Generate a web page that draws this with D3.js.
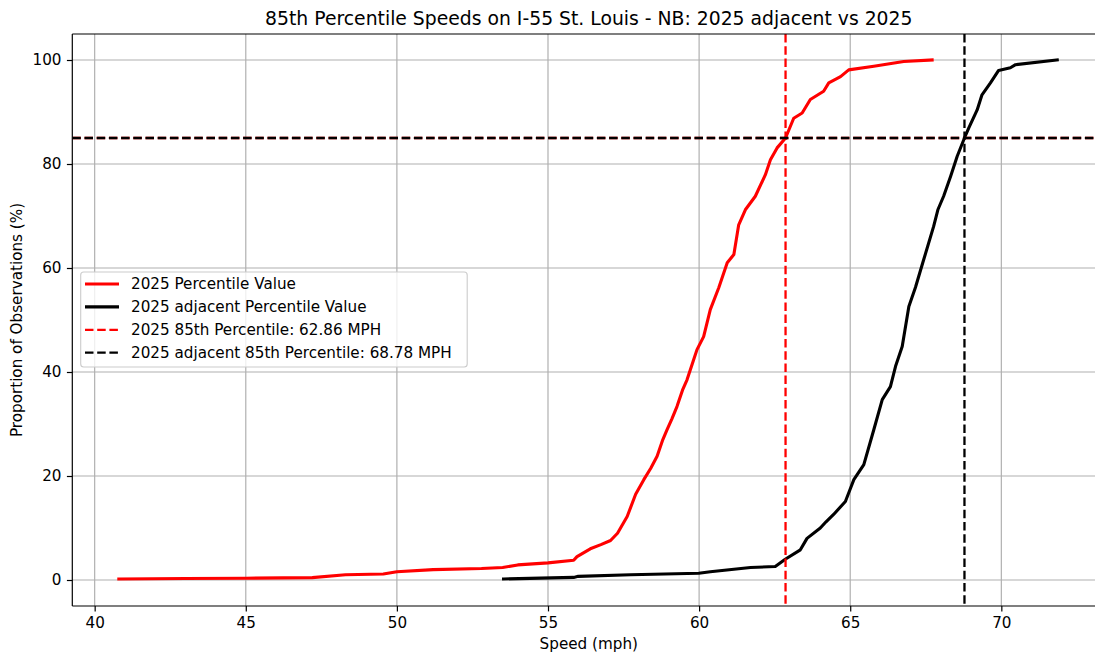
<!DOCTYPE html>
<html>
<head>
<meta charset="utf-8">
<script src="https://cdn.jsdelivr.net/npm/d3@7"></script>
<style>
  html, body { margin: 0; padding: 0; background: #fff; }
  svg { display: block; font-family: "DejaVu Sans", sans-serif; }
</style>
</head>
<body>
<svg id="chart" width="1095" height="656"></svg>
<script>
// Cumulative speed distributions (speed in mph, cumulative share in %)
const speed2025 = [40.8, 43.0, 45.0, 47.2, 48.3, 49.55, 50.0, 51.2, 52.8, 53.5, 54.0, 55.0, 55.85, 55.96, 56.4, 56.75, 57.07, 57.3, 57.62, 57.9, 58.17, 58.4, 58.61, 58.8, 58.94, 59.1, 59.27, 59.45, 59.6, 59.8, 59.93, 60.15, 60.37, 60.65, 60.93, 61.15, 61.31, 61.53, 61.86, 62.19, 62.36, 62.58, 62.86, 63.13, 63.41, 63.68, 64.12, 64.29, 64.68, 64.95, 65.78, 66.77, 67.71];
const pct2025 = [0.2, 0.3, 0.35, 0.45, 1.0, 1.15, 1.6, 2.0, 2.2, 2.4, 2.9, 3.3, 3.8, 4.5, 6.0, 6.8, 7.6, 9.0, 12.2, 16.5, 19.3, 21.5, 23.8, 27.0, 28.9, 31.0, 33.4, 36.5, 38.5, 42.0, 44.3, 46.8, 52.0, 56.2, 61.0, 62.6, 68.3, 71.2, 73.8, 77.9, 80.8, 83.1, 85.0, 88.8, 89.8, 92.4, 94.0, 95.6, 96.8, 98.1, 98.8, 99.7, 100];

const speedAdj = [53.53, 55.85, 56.0, 57.73, 59.99, 60.37, 61.7, 62.52, 62.85, 63.35, 63.57, 64.01, 64.2, 64.45, 64.84, 65.0, 65.12, 65.45, 65.78, 66.06, 66.33, 66.5, 66.72, 66.94, 67.16, 67.4, 67.76, 67.9, 68.09, 68.32, 68.54, 68.78, 68.92, 69.2, 69.36, 69.64, 69.91, 70.3, 70.47, 71.85];
const pctAdj = [0.2, 0.5, 0.7, 1.0, 1.3, 1.6, 2.4, 2.6, 4.0, 5.8, 8.0, 10.0, 11.2, 12.6, 15.1, 17.5, 19.3, 22.2, 28.9, 34.7, 37.2, 41.1, 44.9, 52.6, 56.3, 61.0, 68.0, 71.2, 73.8, 77.6, 81.5, 85.0, 86.9, 90.4, 93.3, 95.6, 98.0, 98.5, 99.1, 100];

const p85_2025 = 62.86;
const p85_adj = 68.78;
const p85Level = 85;

const xTicks = [40, 45, 50, 55, 60, 65, 70];
const yTicks = [0, 20, 40, 60, 80, 100];

const titleText = "85th Percentile Speeds on I-55 St. Louis - NB: 2025 adjacent vs 2025";
const legendLabels = [
  "2025 Percentile Value",
  "2025 adjacent Percentile Value",
  "2025 85th Percentile: 62.86 MPH",
  "2025 adjacent 85th Percentile: 68.78 MPH"
];

// Layout
const plot = { left: 72.3, right: 1105.3, top: 34, bottom: 606 };
const FS = 15.2;

const svg = d3.select("#chart");

const x = d3.scaleLinear().domain([39.26, 73.44]).range([plot.left, plot.right]);
const y = d3.scaleLinear().domain([-5, 105]).range([plot.bottom, plot.top]);

svg.append("defs").append("clipPath").attr("id", "plotClip")
  .append("rect")
  .attr("x", plot.left).attr("y", plot.top)
  .attr("width", plot.right - plot.left).attr("height", plot.bottom - plot.top);

// Grid
const grid = svg.append("g").attr("stroke", "#b0b0b0").attr("stroke-width", 1.2);
xTicks.forEach(t => grid.append("line")
  .attr("x1", x(t)).attr("x2", x(t)).attr("y1", plot.top).attr("y2", plot.bottom));
yTicks.forEach(t => grid.append("line")
  .attr("x1", plot.left).attr("x2", plot.right).attr("y1", y(t)).attr("y2", y(t)));

// Curves
const plotArea = svg.append("g").attr("clip-path", "url(#plotClip)");
const line = d3.line().x(d => x(d[0])).y(d => y(d[1]));
const redPts = speed2025.map((s, i) => [s, pct2025[i]]);
const blackPts = speedAdj.map((s, i) => [s, pctAdj[i]]);

plotArea.append("path").datum(redPts).attr("d", line)
  .attr("fill", "none").attr("stroke", "#ff0000").attr("stroke-width", 3.1)
  .attr("stroke-linejoin", "round").attr("stroke-linecap", "square");
plotArea.append("path").datum(blackPts).attr("d", line)
  .attr("fill", "none").attr("stroke", "#000000").attr("stroke-width", 3.1)
  .attr("stroke-linejoin", "round").attr("stroke-linecap", "square");

// 85th percentile reference lines
const dash = "8.5,3.7";
function vline(v, color) {
  plotArea.append("line").attr("x1", x(v)).attr("x2", x(v))
    .attr("y1", plot.top).attr("y2", plot.bottom)
    .attr("stroke", color).attr("stroke-width", 2.3).attr("stroke-dasharray", dash);
}
function hline(v, color) {
  plotArea.append("line").attr("x1", plot.left).attr("x2", plot.right)
    .attr("y1", y(v)).attr("y2", y(v))
    .attr("stroke", color).attr("stroke-width", 2.3).attr("stroke-dasharray", dash);
}
vline(p85_2025, "#ff0000");
hline(p85Level, "#ff0000");
vline(p85_adj, "#000000");
hline(p85Level, "#000000");

// Axes
const xAxis = d3.axisBottom(x).tickValues(xTicks).tickSize(5.4).tickPadding(5.4).tickFormat(d3.format("d"));
const yAxis = d3.axisLeft(y).tickValues(yTicks).tickSize(5.4).tickPadding(5.4).tickFormat(d3.format("d"));

const gx = svg.append("g").attr("transform", `translate(0,${plot.bottom})`).call(xAxis);
const gy = svg.append("g").attr("transform", `translate(${plot.left},0)`).call(yAxis);
[gx, gy].forEach(g => {
  g.select(".domain").remove();
  g.selectAll(".tick line").attr("stroke", "#000").attr("stroke-width", 1.2);
  g.selectAll(".tick text").attr("fill", "#000").attr("font-size", FS)
    .attr("font-family", "DejaVu Sans, sans-serif");
});

// Spines
const sp = svg.append("g").attr("stroke", "#000").attr("stroke-width", 1.2);
sp.append("line").attr("x1", plot.left).attr("x2", plot.left).attr("y1", plot.top).attr("y2", plot.bottom);
sp.append("line").attr("x1", plot.left).attr("x2", plot.right).attr("y1", plot.bottom).attr("y2", plot.bottom);
sp.append("line").attr("x1", plot.left).attr("x2", plot.right).attr("y1", plot.top).attr("y2", plot.top);
sp.append("line").attr("x1", plot.right).attr("x2", plot.right).attr("y1", plot.top).attr("y2", plot.bottom);

// Title and axis labels
const midX = (plot.left + plot.right) / 2;
svg.append("text").attr("x", midX).attr("y", 25).attr("text-anchor", "middle")
  .attr("font-size", 18.8).attr("fill", "#000").text(titleText);
svg.append("text").attr("x", midX).attr("y", 649).attr("text-anchor", "middle")
  .attr("font-size", FS).attr("fill", "#000").text("Speed (mph)");
svg.append("text").attr("transform", `translate(22,${(plot.top + plot.bottom) / 2}) rotate(-90)`)
  .attr("text-anchor", "middle").attr("font-size", FS).attr("fill", "#000")
  .text("Proportion of Observations (%)");

// Legend
const leg = svg.append("g");
leg.append("rect").attr("x", 80.7).attr("y", 272).attr("width", 386.5).attr("height", 95)
  .attr("rx", 3).attr("ry", 3)
  .attr("fill", "#ffffff").attr("fill-opacity", 0.8)
  .attr("stroke", "#cccccc").attr("stroke-width", 1.1);
const legStyles = [
  { color: "#ff0000", width: 3.1, dash: null },
  { color: "#000000", width: 3.1, dash: null },
  { color: "#ff0000", width: 2.3, dash: dash },
  { color: "#000000", width: 2.3, dash: dash }
];
legendLabels.forEach((lab, i) => {
  const cy = 284 + i * 22.9;
  const l = leg.append("line").attr("x1", 85).attr("x2", 119).attr("y1", cy).attr("y2", cy)
    .attr("stroke", legStyles[i].color).attr("stroke-width", legStyles[i].width);
  if (legStyles[i].dash) l.attr("stroke-dasharray", legStyles[i].dash);
  leg.append("text").attr("x", 131).attr("y", cy).attr("dy", "0.36em")
    .attr("font-size", FS).attr("fill", "#000").text(lab);
});
</script>
</body>
</html>
